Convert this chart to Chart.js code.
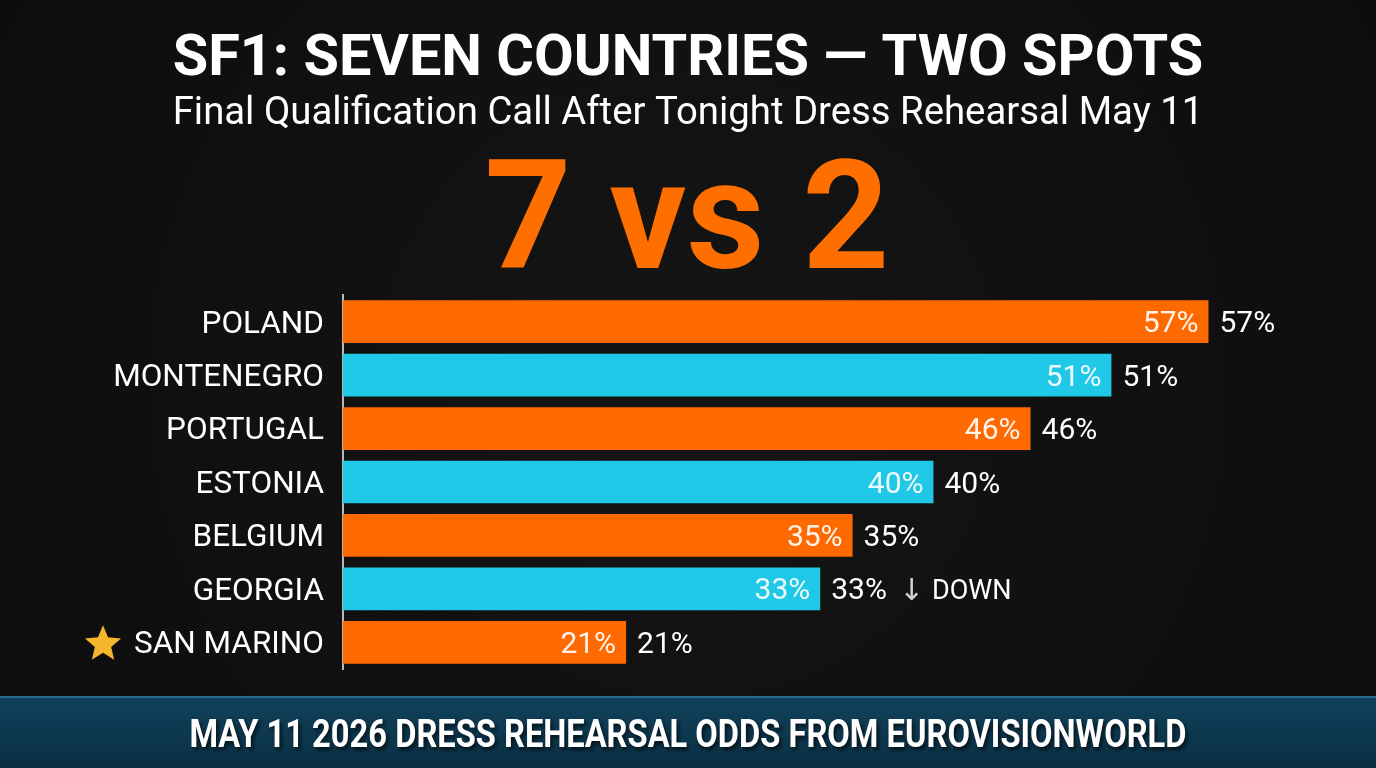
<!DOCTYPE html>
<html>
<head>
<meta charset="utf-8">
<title>SF1: Seven Countries - Two Spots</title>
<script src="https://cdn.jsdelivr.net/npm/chart.js@4.4.1/dist/chart.umd.min.js"></script>
<style>
    html, body { margin: 0; padding: 0; background: #0f0f0f; overflow: hidden; }
    canvas { display: block; }
</style>
</head>
<body>
<canvas id="oddsChart" width="1376" height="768"></canvas>
<script>
// data
const countries = ['POLAND', 'MONTENEGRO', 'PORTUGAL', 'ESTONIA', 'BELGIUM', 'GEORGIA', 'SAN MARINO']
const odds = [57, 51, 46, 40, 35, 33, 21]
const notes = ['', '', '', '', '', 'DOWN', '']
const starred = ['SAN MARINO']

const titleText = 'SF1: SEVEN COUNTRIES \u2014 TWO SPOTS'
const subtitleText = 'Final Qualification Call After Tonight Dress Rehearsal May 11'
const bigText = '7 vs 2'
const footerText = 'MAY 11 2026 DRESS REHEARSAL ODDS FROM EUROVISIONWORLD'

const ORANGE = '#ff6a00'
const CYAN = '#20c8e8'
const LABEL_SIZE = 31.5

function fitText(ctx, text, weight, size, family, width) {
    ctx.font = weight + ' ' + size + 'px ' + family
    let w = ctx.measureText(text).width
    return size * width / w
}

function drawStar(ctx, cx, cy, r) {
    ctx.beginPath()
    for (let i = 0; i < 10; i++) {
        let rad = i % 2 == 0 ? r : r * 0.45
        let a = -Math.PI / 2 + i * Math.PI / 5
        let x = cx + rad * Math.cos(a)
        let y = cy + rad * Math.sin(a)
        if (i == 0) ctx.moveTo(x, y)
        else ctx.lineTo(x, y)
    }
    ctx.closePath()
    ctx.fillStyle = '#f6b62c'
    ctx.fill()
}

const backdrop = {
    id: 'backdrop',
    beforeDraw(chart) {
        const ctx = chart.ctx
        const W = chart.width, H = chart.height
        ctx.save()
        let g = ctx.createRadialGradient(W / 2, H / 2, 100, W / 2, H / 2, W * 0.7)
        g.addColorStop(0, '#141414')
        g.addColorStop(1, '#0b0b0b')
        ctx.fillStyle = g
        ctx.fillRect(0, 0, W, H)

        // headings
        ctx.fillStyle = '#ffffff'
        ctx.textAlign = 'center'
        ctx.textBaseline = 'alphabetic'
        let s = fitText(ctx, titleText, 'bold', 50, 'Roboto', 1031)
        ctx.font = 'bold ' + s + 'px Roboto'
        ctx.fillText(titleText, W / 2, 75)

        s = fitText(ctx, subtitleText, 'normal', 34, 'Roboto', 1031)
        ctx.font = 'normal ' + s + 'px Roboto'
        ctx.fillText(subtitleText, W / 2, 124)

        ctx.fillStyle = '#ff6f00'
        ctx.font = 'bold 152px Roboto'
        ctx.fillText(bigText, 687, 268)

        // footer band
        let fg = ctx.createLinearGradient(0, 696, 0, H)
        fg.addColorStop(0, '#10425c')
        fg.addColorStop(1, '#0a2f44')
        ctx.fillStyle = fg
        ctx.fillRect(0, 696, W, H - 696)
        ctx.fillStyle = '#2b6c8c'
        ctx.fillRect(0, 696, W, 2)

        ctx.font = 'bold 38px Roboto'
        let fw = ctx.measureText(footerText).width
        ctx.save()
        ctx.translate(W / 2, 747)
        ctx.scale(997 / fw, 1)
        ctx.shadowColor = 'rgba(0,0,0,0.7)'
        ctx.shadowOffsetX = 2
        ctx.shadowOffsetY = 3
        ctx.shadowBlur = 4
        ctx.fillStyle = '#ffffff'
        ctx.fillText(footerText, 0, 0)
        ctx.restore()
        ctx.restore()
    }
}

const valueLabels = {
    id: 'valueLabels',
    afterDatasetsDraw(chart) {
        const ctx = chart.ctx
        const meta = chart.getDatasetMeta(0)
        const yScale = chart.scales.y
        ctx.save()
        ctx.textBaseline = 'middle'
        meta.data.forEach(function (bar, i) {
            let txt = odds[i] + '%'
            let y = bar.y + 3
            ctx.font = 'normal 30px Roboto'
            ctx.fillStyle = 'rgba(255,255,255,0.92)'
            ctx.textAlign = 'right'
            ctx.fillText(txt, bar.x - 10, y)
            ctx.fillStyle = '#ffffff'
            ctx.textAlign = 'left'
            ctx.fillText(txt, bar.x + 11, y)
            if (notes[i]) {
                let x = bar.x + 11 + ctx.measureText(txt).width + 12
                ctx.fillStyle = '#c9d2d6'
                ctx.font = 'normal 30px "DejaVu Sans"'
                ctx.fillText('\u2193', x, y)
                x += ctx.measureText('\u2193').width + 8
                ctx.fillStyle = '#ffffff'
                ctx.font = 'normal 27px Roboto'
                ctx.fillText(notes[i], x, y)
            }
        })
        // star in front of highlighted labels
        ctx.font = 'normal ' + LABEL_SIZE + 'px Roboto'
        countries.forEach(function (c, i) {
            if (starred.indexOf(c) < 0) return
            let y = yScale.getPixelForValue(i)
            let w = ctx.measureText(c).width
            drawStar(ctx, 323 - w - 30, y + 2, 19)
        })
        ctx.restore()
    }
}

document.addEventListener('DOMContentLoaded', function () {
    const ctx = document.getElementById('oddsChart').getContext('2d')

    new Chart(ctx, {
        type: 'bar',
        data: {
            labels: countries,
            datasets: [{
                data: odds,
                backgroundColor: odds.map((v, i) => i % 2 == 0 ? ORANGE : CYAN),
                borderWidth: 0,
                categoryPercentage: 1,
                barPercentage: 0.8
            }]
        },
        plugins: [backdrop, valueLabels],
        options: {
            indexAxis: 'y',
            responsive: false,
            animation: false,
            layout: {
                padding: { top: 295, bottom: 99, left: 0, right: 119 }
            },
            plugins: {
                legend: { display: false },
                tooltip: { enabled: false }
            },
            scales: {
                x: {
                    display: false,
                    min: 3.5,
                    max: 60
                },
                y: {
                    afterFit(axis) { axis.width = 343 },
                    grid: { display: false, drawTicks: false },
                    border: { display: true, color: '#b8b8b8', width: 2 },
                    ticks: {
                        color: '#ffffff',
                        padding: 19,
                        labelOffset: 3,
                        font: { family: 'Roboto', size: LABEL_SIZE }
                    }
                }
            }
        }
    })
})
</script>
</body>
</html>
